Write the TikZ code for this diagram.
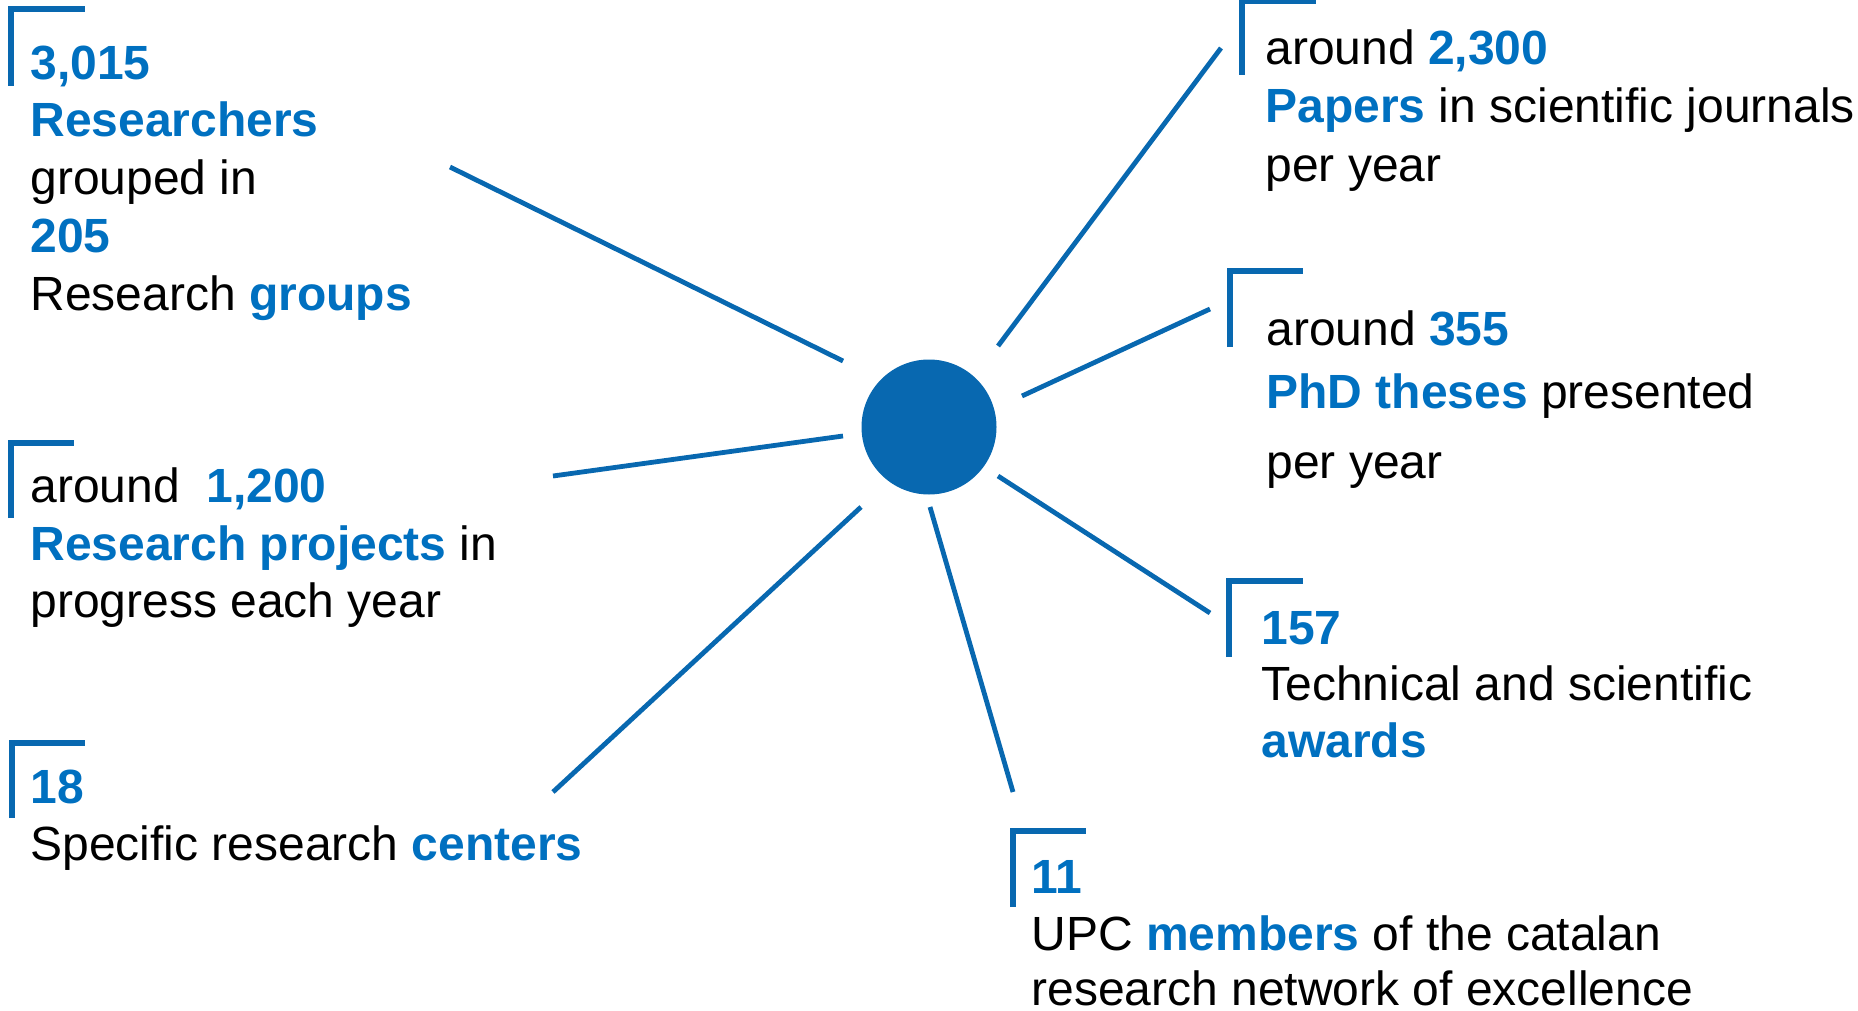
\documentclass[tikz,border=0pt]{standalone}
\usepackage{fontspec}
\setmainfont{Liberation Sans}
\definecolor{tblue}{HTML}{0070C0}
\definecolor{lblue}{HTML}{0868B0}
\newcommand\hib[1]{\textcolor{tblue}{\textbf{#1}}}
\begin{document}
\begin{tikzpicture}[x=0.5pt,y=-0.5pt,
  txt/.style={anchor=base west,inner sep=0pt,font=\fontsize{24pt}{28pt}\selectfont},
  ray/.style={draw=lblue,line width=2.4pt},
  corner/.style={draw=lblue,line width=3pt,line join=miter}]
\useasboundingbox (0,0) rectangle (1858,1011);

% hub
\node[circle,fill=lblue,minimum size=67.5pt,inner sep=0pt] (hub) at (929,427) {};

% ray end points
\coordinate (o1) at (450,167);  \coordinate (i1) at (843,361);
\coordinate (o2) at (553,476);  \coordinate (i2) at (843,436);
\coordinate (o3) at (553,792);  \coordinate (i3) at (861,507);
\coordinate (o4) at (1013,792); \coordinate (i4) at (930,507);
\coordinate (o5) at (1210,613); \coordinate (i5) at (998,476);
\coordinate (o6) at (1221,48);  \coordinate (i6) at (998,346);
\coordinate (o7) at (1210,309); \coordinate (i7) at (1022,396);
\foreach \k in {1,...,7} {\draw[ray] (i\k) -- (o\k);}

% corner brackets
\draw[corner] (11,86) |- (85,9);
\draw[corner] (1242,75) |- (1316,1);
\draw[corner] (1230,347) |- (1303,271);
\draw[corner] (1229,657) |- (1303,581);
\draw[corner] (1013,907) |- (1086,831);
\draw[corner] (11,518) |- (74,443);
\draw[corner] (12,818) |- (85,743);

% block: researchers
\node[txt] (a1) at (30,80)  {\hib{3,015}};
\node[txt] (a2) at (30,137) {\hib{Researchers}};
\node[txt] (a3) at (30,194) {grouped in};
\node[txt] (a4) at (30,252) {\hib{205}};
\node[txt] (a5) at (30,310) {Research \hib{groups}};

% block: papers
\node[txt] (b1) at (1265,65)  {around \hib{2,300}};
\node[txt] (b2) at (1265,123) {\hib{Papers} in scientific journals};
\node[txt] (b3) at (1265,182) {per year};

% block: theses
\node[txt] (c1) at (1266,345) {around \hib{355}};
\node[txt] (c2) at (1266,408) {\hib{PhD theses} presented};
\node[txt] (c3) at (1266,478) {per year};

% block: awards
\node[txt] (d1) at (1261,644) {\hib{157}};
\node[txt] (d2) at (1261,700) {Technical and scientific};
\node[txt] (d3) at (1261,757) {\hib{awards}};

% block: members
\node[txt] (e1) at (1031,893)  {\hib{11}};
\node[txt] (e2) at (1031,950)  {UPC \hib{members} of the catalan};
\node[txt] (e3) at (1031,1005) {research network of excellence};

% block: projects
\node[txt] (f1) at (30,502) {around\ \ \hib{1,200}};
\node[txt] (f2) at (30,560) {\hib{Research projects} in};
\node[txt] (f3) at (30,617) {progress each year};

% block: centers
\node[txt] (g1) at (30,803) {\hib{18}};
\node[txt] (g2) at (30,860) {Specific research \hib{centers}};
\end{tikzpicture}
\end{document}
